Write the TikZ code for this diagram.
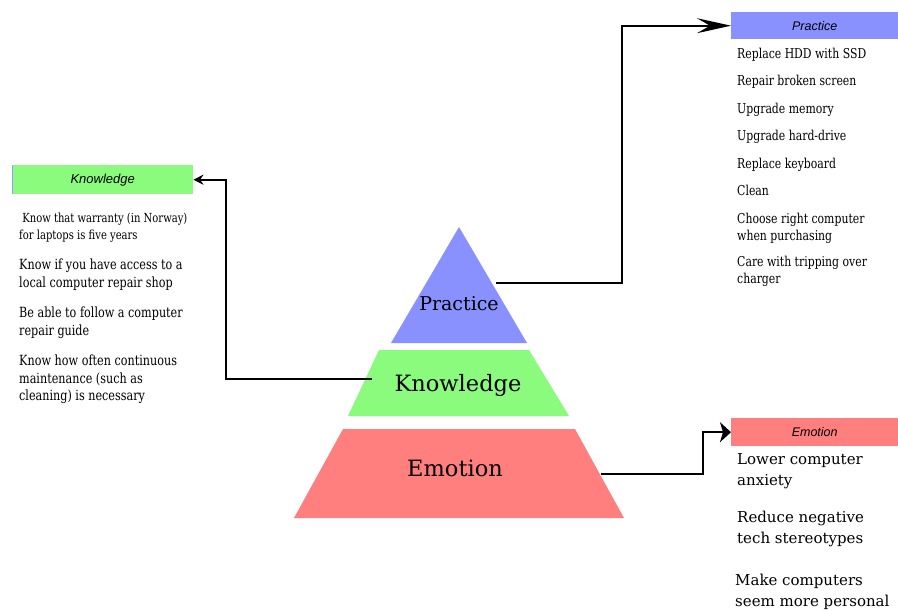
\documentclass[tikz,border=0pt]{standalone}
\usepackage{fontspec}
\setmainfont{DejaVu Serif}[FakeStretch=0.8]
\newfontfamily\lvlfont{DejaVu Serif}
\setsansfont{Liberation Sans}
\usetikzlibrary{arrows.meta}
\definecolor{pblue}{HTML}{8891FF}
\definecolor{kgreen}{HTML}{8AFB7C}
\definecolor{ered}{HTML}{FF7E7E}
\tikzset{
  conn/.style={line width=1.8pt, line join=miter},
  head/.style={font=\sffamily\itshape\fontsize{13}{15}\selectfont, inner sep=0pt},
  item/.style={anchor=north west, inner sep=0pt, align=left, font=\fontsize{13.6}{16.5}\selectfont},
  kitem/.style={anchor=north west, inner sep=0pt, align=left, font=\fontsize{14}{17.5}\selectfont},
  bigitem/.style={anchor=north west, inner sep=0pt, align=left, font=\lvlfont\fontsize{15}{21}\selectfont},
  lvl/.style={inner sep=0pt}
}
\begin{document}
\begin{tikzpicture}[x=1pt,y=-1pt]
\useasboundingbox (0,0) rectangle (898,610);
\fill[white] (0,0) rectangle (898,610);
% pyramid
\fill[pblue] (459,227) -- (527,343) -- (391,343) -- cycle;
\fill[kgreen] (379,350) -- (529,350) -- (569,416) -- (348,416) -- cycle;
\fill[ered] (343,429) -- (575,429) -- (624,518) -- (294,518) -- cycle;
\node[lvl, font=\lvlfont\fontsize{19}{21}\selectfont] (lp) at (459,304) {Practice};
\node[lvl, font=\lvlfont\fontsize{22.5}{24}\selectfont] (lk) at (458,385) {Knowledge};
\node[lvl, font=\lvlfont\fontsize{22.5}{24}\selectfont] (le) at (455,468) {Emotion};
\coordinate (sp) at (496,283);
\coordinate (sk) at (372,379);
\coordinate (se) at (601,474);
% header boxes
\node[head, fill=kgreen, minimum width=181pt, minimum height=29pt, anchor=north west] (hk) at (12,165) {Knowledge};
\draw[line width=1pt, blue!40] (hk.north west) -- (hk.south west);
\node[head, fill=pblue, minimum width=167pt, minimum height=27pt, anchor=north west, font=\sffamily\itshape\fontsize{12.5}{15}\selectfont] (hp) at (731,12) {Practice};
\node[head, fill=ered, minimum width=167pt, minimum height=28pt, anchor=north west, font=\sffamily\itshape\fontsize{12.5}{15}\selectfont] (he) at (731,418) {Emotion};
% connectors
\draw[conn, -{Stealth[length=10pt,width=10pt]}] (sk) -- (226,379) |- (hk.east);
\draw[conn, -{Stealth[length=34pt,width=15pt,inset=13pt]}] (sp) -- (622,283) |- (hp.west);
\draw[conn, -{Stealth[length=11pt,width=20pt,inset=3pt]}] (se) -- (703,474) |- (he.west);
% knowledge list
\node[item, font=\fontsize{12.5}{16.5}\selectfont] (k1) at (19,213) {\ Know that warranty (in Norway)\\for laptops is five years};
\node[kitem] (k2) at (19,259) {Know if you have access to a\\local computer repair shop};
\node[kitem] (k3) at (19,307) {Be able to follow a computer\\repair guide};
\node[kitem] (k4) at (19,355) {Know how often continuous\\maintenance (such as\\cleaning) is necessary};
% practice list
\node[item] (p1) at (737,48) {Replace HDD with SSD};
\node[item] (p2) at (737,75) {Repair broken screen};
\node[item] (p3) at (737,103) {Upgrade memory};
\node[item] (p4) at (737,130) {Upgrade hard-drive};
\node[item] (p5) at (737,158) {Replace keyboard};
\node[item] (p6) at (737,185) {Clean};
\node[item] (p7) at (737,213) {Choose right computer\\when purchasing};
\node[item] (p8) at (737,256) {Care with tripping over\\charger};
% emotion list
\node[bigitem] (e1) at (737,453) {Lower computer\\anxiety};
\node[bigitem] (e2) at (737,511) {Reduce negative\\tech stereotypes};
\node[bigitem] (e3) at (735,574) {Make computers\\seem more personal};
\end{tikzpicture}
\end{document}
